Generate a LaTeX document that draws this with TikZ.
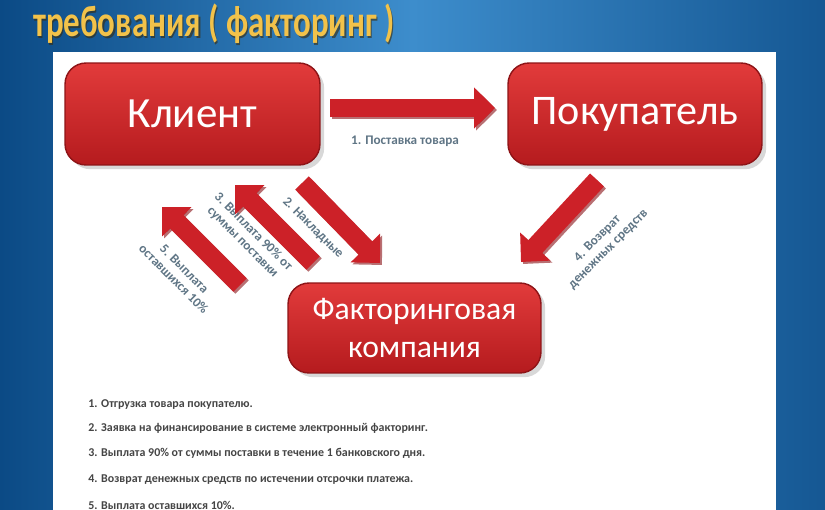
\documentclass[tikz,border=0pt]{standalone}
\usepackage{fontspec}
\setmainfont{Carlito}
\newfontfamily\titlefont[FakeStretch=0.75]{Carlito}
\usepackage{tikz}
\usetikzlibrary{arrows.meta, positioning, calc, shadows}
\definecolor{bgDark}{HTML}{0B4A85}
\definecolor{bgLight}{HTML}{3D8DCC}
\definecolor{titleGold}{HTML}{F2C24A}
\definecolor{titleShadow}{HTML}{3A2A08}
\definecolor{boxTop}{HTML}{E23B3B}
\definecolor{boxBottom}{HTML}{B51B1E}
\definecolor{boxEdge}{HTML}{8E1417}
\definecolor{arrowRed}{HTML}{CC2128}
\definecolor{arrowDark}{HTML}{8A1216}
\definecolor{labelGray}{HTML}{5F7585}
\definecolor{listGray}{HTML}{454545}
\tikzset{
    partybox/.style={rectangle, rounded corners=12pt, top color=boxTop, bottom color=boxBottom,
        draw=boxEdge, line width=0.8pt, text=white, align=center, drop shadow={opacity=0.3}},
    blockarrow/.style={draw=arrowRed, line width=0.38cm, -{Triangle[length=0.42cm, width=0.8cm]}},
    blockshadow/.style={draw=arrowDark, line width=0.38cm, -{Triangle[length=0.42cm, width=0.8cm]}, opacity=0.6},
    steplabel/.style={text=labelGray, font=\fontsize{7.5}{8.5}\selectfont\bfseries, align=center},
    listline/.style={anchor=west, text=listGray, font=\fontsize{6.8}{8}\selectfont\bfseries, inner sep=0pt},
    titletext/.style={anchor=base west, inner sep=0pt, font=\titlefont\fontsize{25}{27}\selectfont\bfseries}
}
\newcommand{\BlockArrow}[2]{
    \draw[blockshadow] ($(#1)+(2,2)$) -- ($(#2)+(2,2)$);
    \draw[blockarrow] (#1) -- (#2);
}
\begin{document}
\begin{tikzpicture}[x=0.02cm, y=-0.02cm]
    \useasboundingbox (0,0) rectangle (825,510);

    % Background and sheet
    \shade[left color=bgDark, right color=bgDark!80!bgLight, middle color=bgLight] (0,0) rectangle (825,510);
    \fill[white] (53,52) rectangle (776,510);

    % Title
    \node[titletext, text=titleShadow, opacity=0.6] (titleshade) at (34.5,38.5) {требования ( факторинг )};
    \node[titletext, text=titleGold] (title) at (33,37) {требования ( факторинг )};

    % Parties
    \node[partybox, minimum width=5.1cm, minimum height=2.04cm,
        font=\fontsize{24.5}{26}\selectfont] (client) at (192.5,114) {Клиент};
    \node[partybox, minimum width=5.08cm, minimum height=2.04cm,
        font=\fontsize{24}{26}\selectfont] (buyer) at (635,114) {Покупатель};
    \node[partybox, minimum width=5.06cm, minimum height=1.8cm,
        font=\fontsize{18}{22}\selectfont] (factor) at (414.5,328) {Факторинговая\\компания};

    % Arrow ends
    \coordinate (a1s) at (330,108);  \coordinate (a1e) at (495,108);
    \coordinate (a2s) at (302,183);  \coordinate (a2e) at (380,263);
    \coordinate (a3s) at (313,263);  \coordinate (a3e) at (235,185);
    \coordinate (a4s) at (597,180);  \coordinate (a4e) at (521,262);
    \coordinate (a5s) at (240,285);  \coordinate (a5e) at (162,207);

    \BlockArrow{a1s}{a1e}
    \BlockArrow{a2s}{a2e}
    \BlockArrow{a3s}{a3e}
    \BlockArrow{a4s}{a4e}
    \BlockArrow{a5s}{a5e}

    % Step labels
    \node[steplabel] (lab1) at (405,141) {1. Поставка товара};
    \node[steplabel, rotate=-45] (lab2) at (313,228) {2. Накладные};
    \node[steplabel, rotate=-45] (lab3) at (248,237) {3. Выплата 90\% от\\суммы поставки};
    \node[steplabel, rotate=45] (lab4) at (603,244) {4. Возврат\\денежных средств};
    \node[steplabel, rotate=-45] (lab5) at (179,274) {5. Выплата\\оставшихся 10\%};

    % Legend
    \foreach \y/\txt [count=\i] in {405/{1. Отгрузка товара покупателю.},
        428/{2. Заявка на финансирование в системе электронный факторинг.},
        453/{3. Выплата 90\% от суммы поставки в течение 1 банковского дня.},
        480/{4. Возврат денежных средств по истечении отсрочки платежа.},
        505/{5. Выплата оставшихся 10\%.}} {
        \node[listline] (item\i) at (88,\y) {\txt};
    }
\end{tikzpicture}
\end{document}
